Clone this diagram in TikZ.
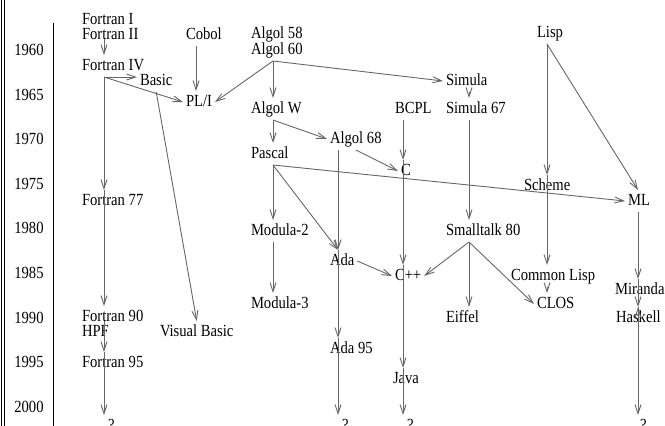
\documentclass[tikz,border=0pt]{standalone}
\usepackage{fontspec}
\setmainfont{Liberation Serif}[FakeStretch=0.86]
\usetikzlibrary{arrows.meta,positioning}

\begin{document}
\begin{tikzpicture}[x=1pt,y=-1pt,
   every node/.style={font=\fontsize{17}{20}\selectfont},
   lang/.style={inner sep=0pt,outer xsep=3pt,outer ysep=3pt,anchor=base west,
                text height=12pt,text depth=4pt},
   dep/.style={draw=black!60,line width=0.9pt,-{Straight Barb[length=9pt,width=6pt]}}]
   \useasboundingbox (0,0) rectangle (665,426);
   % frame and time axis
   \draw[line width=0.8pt] (1,0) -- (1,426) (4,0) -- (4,426);
   \draw[line width=0.8pt] (53,23) -- (53,426);
   \foreach \i in {0,...,8}
      \node (y_\i) at (29,50+44.6*\i) {\number\numexpr1960+5*\i\relax};
   % columns the arrows run in
   \coordinate (f_col) at (104,0);
   \coordinate (cobol_col) at (196,0);
   \coordinate (a_col) at (273,0);
   \coordinate (ada_col) at (338,0);
   \coordinate (b_col) at (403,0);
   \coordinate (s_col) at (469,0);
   \coordinate (l_col) at (547,0);
   \coordinate (m_col) at (638,0);
   % languages
   \node[lang] (fortran_1) at (79,24) {Fortran I};
   \node[lang] (fortran_2) at (79,39) {Fortran II};
   \node[lang] (cobol) at (183,39) {Cobol};
   \node[lang] (algol_58) at (248,38) {Algol 58};
   \node[lang] (algol_60) at (248,54) {Algol 60};
   \node[lang] (lisp) at (534,37) {Lisp};
   \node[lang] (fortran_4) at (79,70) {Fortran IV};
   \node[lang] (basic) at (137,85) {Basic};
   \node[lang] (pl_1) at (183,106) {PL/I};
   \node[lang] (simula) at (443,85) {Simula};
   \node[lang] (algol_w) at (248,113) {Algol W};
   \node[lang] (bcpl) at (392,113) {BCPL};
   \node[lang] (simula_67) at (443,113) {Simula 67};
   \node[lang] (algol_68) at (327,143) {Algol 68};
   \node[lang] (pascal) at (248,158) {Pascal};
   \node[lang] (c) at (398,175) {C};
   \node[lang] (scheme) at (521,190) {Scheme};
   \node[lang] (fortran_77) at (79,205) {Fortran 77};
   \node[lang] (ml) at (625,205) {ML};
   \node[lang] (modula_2) at (248,235) {Modula-2};
   \node[lang] (smalltalk) at (443,235) {Smalltalk 80};
   \node[lang] (ada) at (327,265) {Ada};
   \node[lang] (cpp) at (392,280) {C++};
   \node[lang] (common_lisp) at (508,280) {Common Lisp};
   \node[lang] (miranda) at (612,294) {Miranda};
   \node[lang] (modula_3) at (248,308) {Modula-3};
   \node[lang] (clos) at (534,308) {CLOS};
   \node[lang] (fortran_90) at (79,321) {Fortran 90};
   \node[lang] (eiffel) at (443,322) {Eiffel};
   \node[lang] (haskell) at (613,322) {Haskell};
   \node[lang] (hpf) at (79,336) {HPF};
   \node[lang] (visual_basic) at (157,336) {Visual Basic};
   \node[lang] (ada_95) at (327,353) {Ada 95};
   \node[lang] (fortran_95) at (79,367) {Fortran 95};
   \node[lang] (java) at (390,383) {Java};
   \node[lang] (q_f) at (105,430) {?};
   \node[lang] (q_ada) at (339,430) {?};
   \node[lang] (q_java) at (404,430) {?};
   \node[lang] (q_ml) at (637,430) {?};
   % influences
   \path[dep]
   (fortran_2.base -| f_col) edge (fortran_4.north -| f_col)
   (fortran_4.south -| f_col) edge (basic.west |- fortran_4.south)
   (fortran_4.south -| f_col) edge (pl_1.west)
   (fortran_4.south -| f_col) edge (fortran_77.north -| f_col)
   (fortran_77.north -| f_col) edge (fortran_90.north -| f_col)
   (hpf.north -| f_col) edge (fortran_95.north -| f_col)
   (fortran_95.north -| f_col) edge (q_f.north -| f_col)
   (cobol.south -| cobol_col) edge (pl_1.north -| cobol_col)
   (basic.south) edge (visual_basic.north)
   (algol_60.south -| a_col) edge (pl_1.east)
   (algol_60.south -| a_col) edge (simula.west)
   (algol_60.south -| a_col) edge (algol_w.north -| a_col)
   (algol_w.south -| a_col) edge (algol_68.west)
   (algol_w.south -| a_col) edge (pascal.north -| a_col)
   (pascal.south -| a_col) edge (modula_2.north -| a_col)
   (pascal.south -| a_col) edge (ada.north -| ada_col)
   (pascal.south -| a_col) edge (ml.west)
   (modula_2.south -| a_col) edge (modula_3.north -| a_col)
   (algol_68.south -| ada_col) edge (ada.north -| ada_col)
   (algol_68.south) edge (c.west)
   (ada.north -| ada_col) edge (ada_95.north -| ada_col)
   (ada_95.north -| ada_col) edge (q_ada.north -| ada_col)
   (ada.east) edge (cpp.west)
   (bcpl.south -| b_col) edge (c.north -| b_col)
   (c.north -| b_col) edge (cpp.north -| b_col)
   (cpp.north -| b_col) edge (java.north -| b_col)
   (java.north -| b_col) edge (q_java.north -| b_col)
   (simula.south -| s_col) edge (simula_67.north -| s_col)
   (simula_67.south -| s_col) edge (smalltalk.north -| s_col)
   (smalltalk.south -| s_col) edge (cpp.east)
   (smalltalk.south -| s_col) edge (clos.west)
   (smalltalk.south -| s_col) edge (eiffel.north -| s_col)
   (lisp.south -| l_col) edge (scheme.north -| l_col)
   (lisp.south -| l_col) edge (ml.north -| m_col)
   (scheme.north -| l_col) edge (common_lisp.north -| l_col)
   (common_lisp.south -| l_col) edge (clos.north -| l_col)
   (ml.south -| m_col) edge (miranda.north -| m_col)
   (miranda.north -| m_col) edge (haskell.north -| m_col)
   (haskell.north -| m_col) edge (q_ml.north -| m_col);
\end{tikzpicture}
\end{document}
